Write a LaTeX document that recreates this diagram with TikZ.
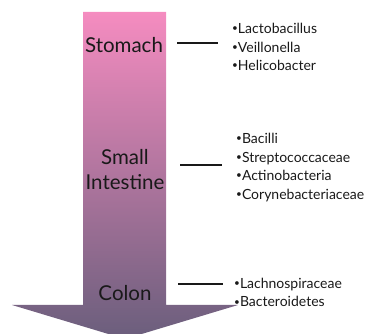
\documentclass[tikz,border=0pt]{standalone}
\usepackage{fontspec}
\setmainfont{Lato}
\definecolor{gutpink}{RGB}{245,140,192}
\definecolor{gutmauve}{RGB}{192,120,165}
\definecolor{gutgrey}{RGB}{106,94,124}
\tikzset{
  organ/.style={font=\fontsize{20.5}{25}\selectfont,text=black!90,align=center,inner sep=0pt},
  taxa/.style={font=\fontsize{14}{18.5}\selectfont,text=black!90,align=left,anchor=west,inner sep=0pt},
  link/.style={black!90,line width=1.2pt},
}
\newcommand{\bul}{{\fontsize{10}{10}\selectfont\raisebox{1.8pt}{•}}}

\begin{document}
\begin{tikzpicture}[x=1pt,y=-1pt,line cap=butt,line join=miter]
\useasboundingbox (0,0) rectangle (373,334);
\clip (0,0) rectangle (373,334);
% the gut arrow
\shade[top color=gutpink,middle color=gutmauve,bottom color=gutgrey]
  (83,12) -- (166,12) -- (166,305) -- (238,305) -- (125,339) -- (12,305) -- (83,305) -- cycle;
% organs
\node[organ] (stomach) at (124,45) {Stomach};
\node[organ] (small) at (125,170) {Small\\Intestine};
\node[organ] (colon) at (125,293) {Colon};
% bacteria found there
\node[taxa] (stomachtaxa) at (232,47) {\bul Lactobacillus\\\bul Veillonella\\\bul Helicobacter};
\node[taxa] (smalltaxa) at (236,167.5) {\bul Bacilli\\\bul Streptococcaceae\\\bul Actinobacteria\\\bul Corynebacteriaceae};
\node[taxa] (colontaxa) at (234,292.5) {\bul Lachnospiraceae\\\bul Bacteroidetes};
% links
\coordinate (stomachfrom) at (177,43);
\coordinate (stomachto) at (218,43);
\coordinate (smallfrom) at (180,165);
\coordinate (smallto) at (222,165);
\coordinate (colonfrom) at (178,284);
\coordinate (colonto) at (223,284);
\draw[link] (stomachfrom) -- (stomachto);
\draw[link] (smallfrom) -- (smallto);
\draw[link] (colonfrom) -- (colonto);
\end{tikzpicture}
\end{document}
